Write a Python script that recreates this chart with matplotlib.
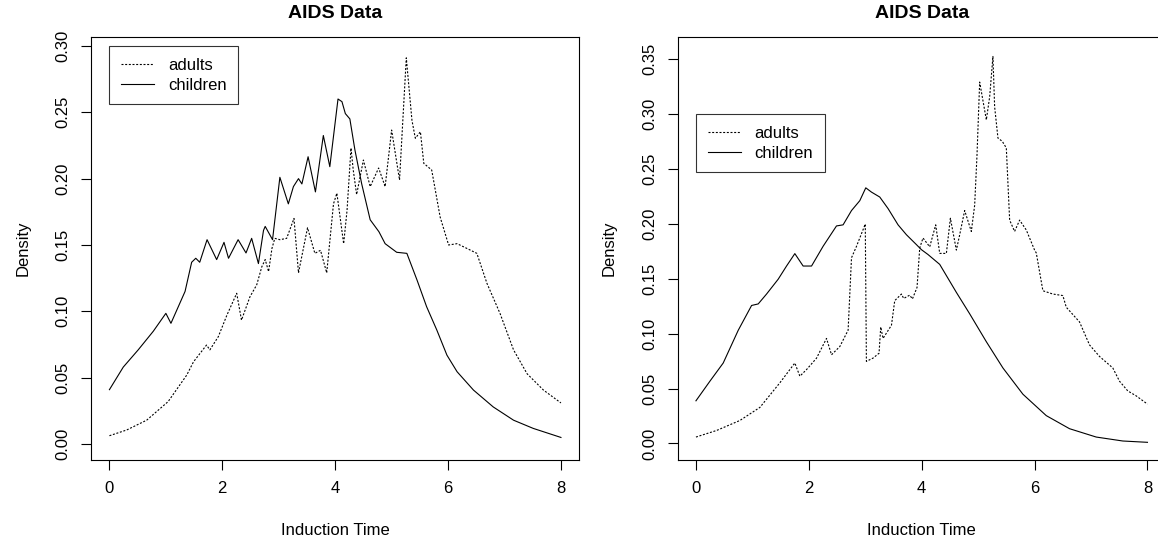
import numpy as np
import matplotlib
matplotlib.use('Agg')
import matplotlib.pyplot as plt

#==============================================================================
#DATA
#==============================================================================

# left panel: children (solid)
left_child_x = [0.0, 0.245, 0.51, 0.777, 1.0, 1.09, 1.34, 1.457, 1.53, 1.60, 1.73, 1.90,
                2.03, 2.11, 2.28, 2.42, 2.52, 2.64, 2.73, 2.76, 2.89, 3.02, 3.17, 3.26, 3.35,
                3.41, 3.52, 3.65, 3.79, 3.905, 4.05, 4.12, 4.18, 4.26, 4.35, 4.47, 4.62,
                4.775, 4.885, 5.09, 5.27, 5.45, 5.62, 5.80, 5.98, 6.16, 6.45, 6.80, 7.16,
                7.51, 8.0]
left_child_y = [0.041, 0.058, 0.071, 0.085, 0.0985, 0.091, 0.115, 0.137, 0.14, 0.137, 0.154,
                0.139, 0.152, 0.14, 0.154, 0.144, 0.155, 0.136, 0.161, 0.164, 0.154, 0.201,
                0.181, 0.194, 0.200, 0.196, 0.2165, 0.19, 0.2325, 0.209, 0.26, 0.258, 0.249,
                0.245, 0.2215, 0.196, 0.169, 0.16, 0.151, 0.1445, 0.1437, 0.1236, 0.1035,
                0.086, 0.067, 0.0545, 0.0407, 0.028, 0.018, 0.0118, 0.005]

# left panel: adults (dotted)
left_adult_x = [0.0, 0.305, 0.66, 1.04, 1.37, 1.49, 1.72, 1.78, 1.93, 2.08, 2.255, 2.34,
                2.49, 2.61, 2.70, 2.76, 2.82, 2.88, 2.93, 3.02, 3.14, 3.27, 3.35, 3.51,
                3.64, 3.74, 3.85, 3.97, 4.03, 4.15, 4.21, 4.28, 4.32, 4.38, 4.50, 4.62,
                4.77, 4.885, 5.00, 5.14, 5.26, 5.36, 5.42, 5.51, 5.57, 5.71, 5.86, 6.01,
                6.16, 6.33, 6.51, 6.69, 6.92, 7.16, 7.40, 7.69, 8.0]
left_adult_y = [0.0063, 0.0106, 0.018, 0.032, 0.052, 0.062, 0.0746, 0.071, 0.081, 0.097,
                0.1136, 0.0934, 0.111, 0.12, 0.1336, 0.139, 0.13, 0.1475, 0.155, 0.154,
                0.155, 0.17, 0.129, 0.163, 0.1437, 0.146, 0.129, 0.181, 0.189, 0.151,
                0.176, 0.223, 0.2065, 0.188, 0.214, 0.194, 0.208, 0.194, 0.2366, 0.199,
                0.291, 0.244, 0.2304, 0.2353, 0.2115, 0.2065, 0.171, 0.15, 0.151, 0.1475,
                0.1437, 0.121, 0.0985, 0.071, 0.053, 0.0407, 0.031]

# right panel: children (solid)
right_child_x = [0.0, 0.248, 0.483, 0.749, 0.986, 1.103, 1.251, 1.457, 1.605, 1.752, 1.899,
                 2.048, 2.253, 2.49, 2.607, 2.756, 2.903, 3.009, 3.11, 3.257, 3.404, 3.581,
                 3.729, 3.906, 3.995, 4.111, 4.319, 4.614, 4.85, 5.145, 5.439, 5.793, 6.207,
                 6.619, 7.092, 7.563, 8.0]
right_child_y = [0.0388, 0.0567, 0.0732, 0.103, 0.1256, 0.127, 0.136, 0.1495, 0.1615, 0.1728,
                 0.1615, 0.1615, 0.1795, 0.198, 0.199, 0.212, 0.221, 0.2327, 0.2288, 0.2243,
                 0.2138, 0.199, 0.19, 0.181, 0.1764, 0.172, 0.163, 0.1375, 0.118, 0.0926,
                 0.0687, 0.0448, 0.0253, 0.0134, 0.0058, 0.0022, 0.001]

# right panel: adults (dotted)
right_adult_x = [0.0, 0.366, 0.779, 1.133, 1.487, 1.752, 1.841, 1.959, 2.136, 2.313, 2.402,
                 2.549, 2.696, 2.756, 2.844, 3.0, 3.02, 3.138, 3.244, 3.274, 3.315, 3.464,
                 3.522, 3.641, 3.681, 3.788, 3.835, 3.917, 3.965, 4.023, 4.142, 4.248, 4.319,
                 4.437, 4.508, 4.614, 4.673, 4.761, 4.879, 4.938, 4.979, 5.027, 5.145, 5.204,
                 5.262, 5.292, 5.351, 5.428, 5.499, 5.558, 5.646, 5.735, 5.853, 6.0, 6.03,
                 6.147, 6.324, 6.501, 6.561, 6.796, 6.973, 7.15, 7.386, 7.504, 7.651, 7.8, 8.0]
right_adult_y = [0.0058, 0.0118, 0.0209, 0.0328, 0.0552, 0.0732, 0.0612, 0.0672, 0.0776,
                 0.0956, 0.0807, 0.0882, 0.1031, 0.169, 0.1794, 0.1997, 0.0747, 0.0777,
                 0.0821, 0.106, 0.0956, 0.1076, 0.13, 0.136, 0.132, 0.135, 0.1315, 0.142,
                 0.178, 0.187, 0.179, 0.199, 0.173, 0.173, 0.205, 0.176, 0.19, 0.212, 0.193,
                 0.2168, 0.2617, 0.329, 0.2946, 0.3155, 0.3523, 0.3065, 0.278, 0.275, 0.269,
                 0.2033, 0.193, 0.2033, 0.1943, 0.176, 0.1734, 0.139, 0.136, 0.1346, 0.124,
                 0.1106, 0.0897, 0.0792, 0.0687, 0.0567, 0.0478, 0.0433, 0.0358]

x_ticks = [0, 2, 4, 6, 8]
left_y_ticks = [0.00, 0.05, 0.10, 0.15, 0.20, 0.25, 0.30]
right_y_ticks = [0.00, 0.05, 0.10, 0.15, 0.20, 0.25, 0.30, 0.35]

#==============================================================================
#SETTINGS
#==============================================================================

plt.rcParams['font.family'] = ['Liberation Sans', 'DejaVu Sans']
tick_font = 12
title_font = 14
lw = 0.8
dots = (0, (1.8, 1.5))

#==============================================================================
#PLOTTING
#==============================================================================

f = plt.figure(figsize=(11.58, 5.46), dpi=100)
ax1 = f.add_axes([0.0789, 0.1575, 0.4211, 0.7747])
ax2 = f.add_axes([0.5854, 0.1575, 0.4211, 0.7747])

panels = [(ax1, left_adult_x, left_adult_y, left_child_x, left_child_y, left_y_ticks, (-0.012, 0.3067)),
          (ax2, right_adult_x, right_adult_y, right_child_x, right_child_y, right_y_ticks, (-0.0151, 0.370))]

for ax, ax_x, ax_y, ch_x, ch_y, yt, ylim in panels:
    ax.plot(ax_x, ax_y, color='black', lw=lw, linestyle=dots, label='adults')
    ax.plot(ch_x, ch_y, color='black', lw=lw, label='children')
    ax.set_xlim(-0.32, 8.32)
    ax.set_ylim(*ylim)
    ax.set_xticks(x_ticks)
    ax.set_xticklabels([str(t) for t in x_ticks])
    ax.set_yticks(yt)
    ax.set_yticklabels(['%.2f' % t for t in yt], rotation=90, va='center')
    ax.tick_params(labelsize=tick_font, length=7, width=0.8, pad=8, color='black')
    for s in ax.spines.values():
        s.set_linewidth(0.8)
        s.set_color('black')
    ax.set_title('AIDS Data', fontsize=title_font, fontweight='bold', pad=14)
    ax.set_xlabel('Induction Time', fontsize=tick_font)
    ax.set_ylabel('Density', fontsize=tick_font)
    ax.xaxis.set_label_coords(0.5, -0.148)
    ax.yaxis.set_label_coords(-0.125, 0.5)
    leg = ax.legend(loc='upper left', bbox_to_anchor=(0, 0.30), bbox_transform=ax.transData,
                    borderaxespad=0, fontsize=tick_font, frameon=True, fancybox=False,
                    handlelength=2.0, handletextpad=0.8, borderpad=0.7, labelspacing=0.3)
    leg.get_frame().set_edgecolor('black')
    leg.get_frame().set_linewidth(0.8)

f.savefig('out.png', dpi=100)
